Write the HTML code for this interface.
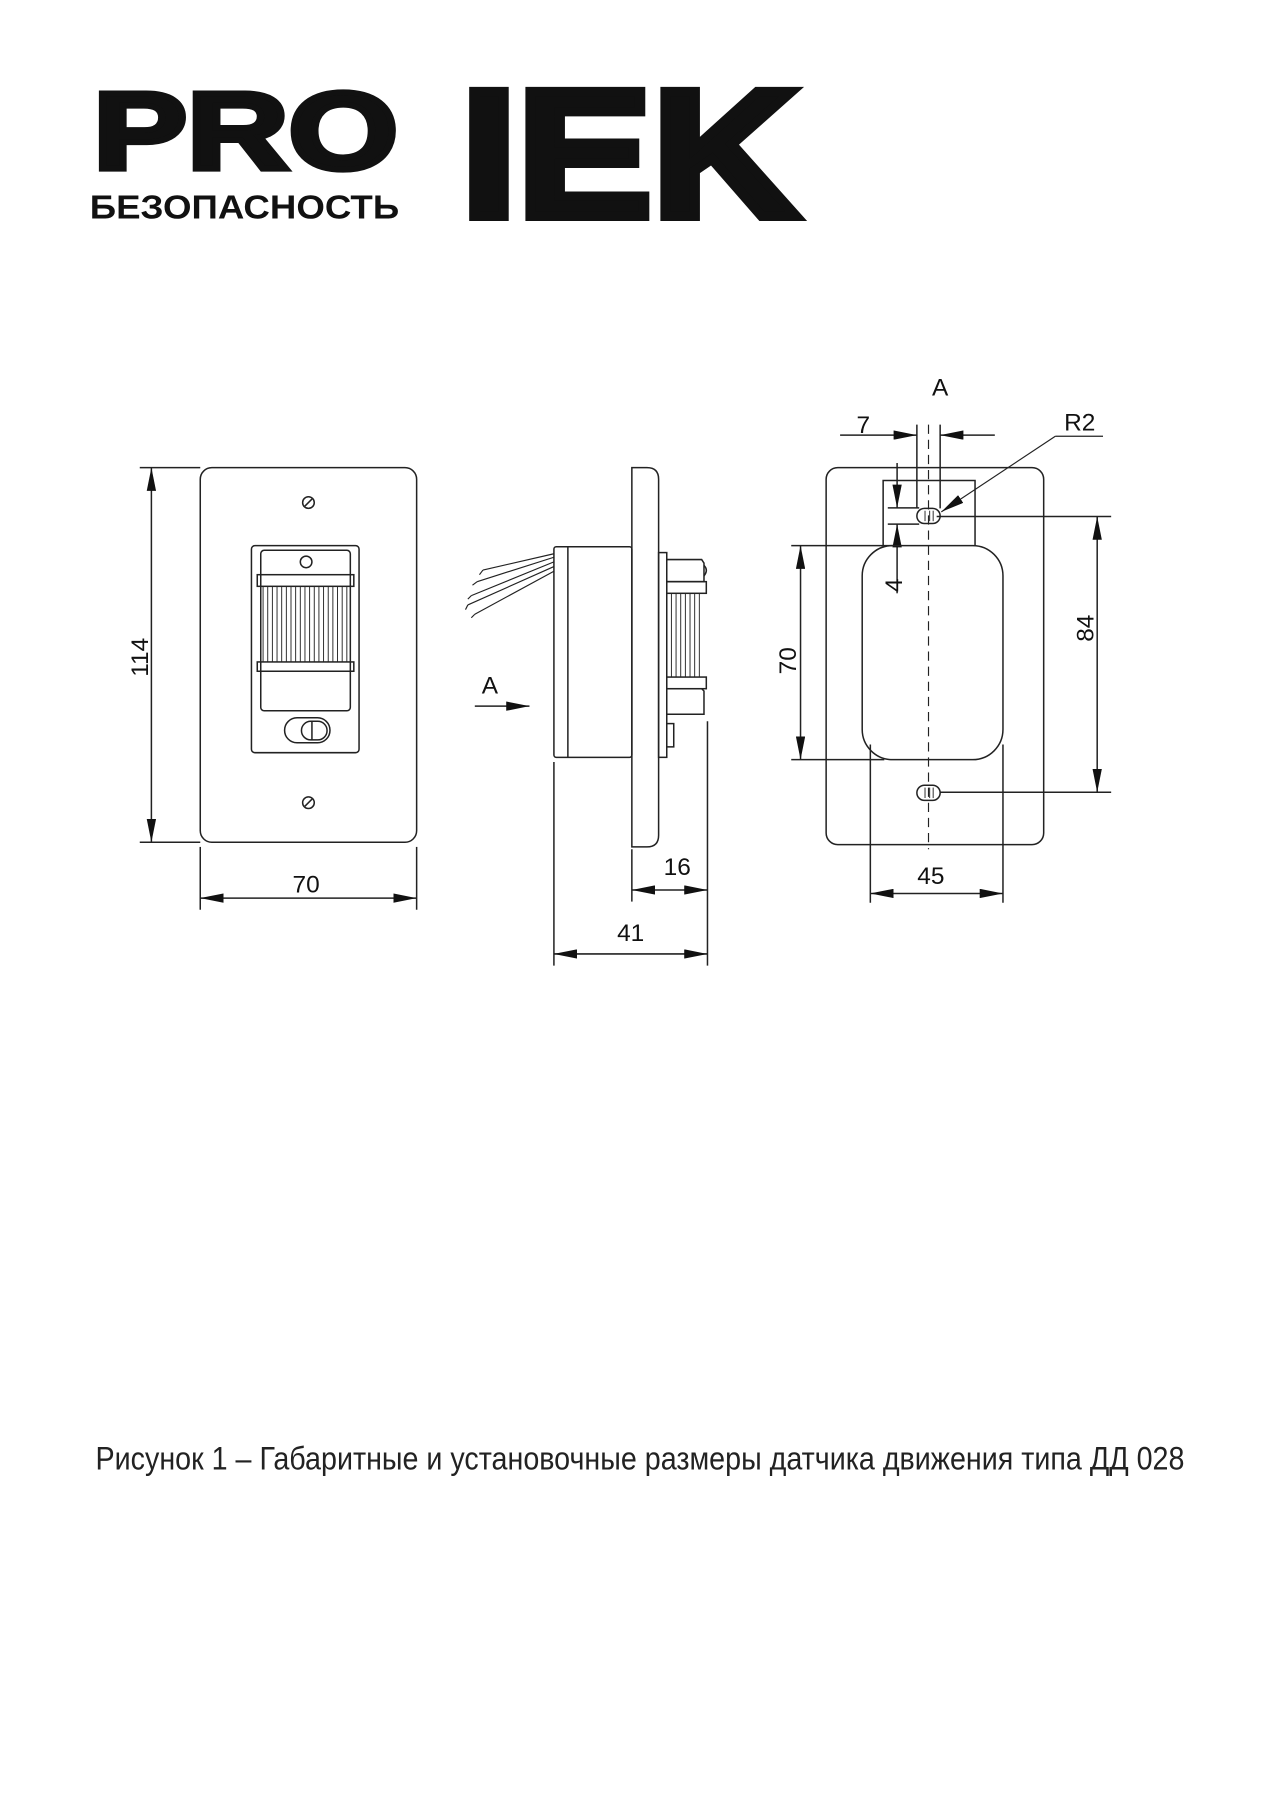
<!DOCTYPE html>
<html><head><meta charset="utf-8"><style>
html,body{margin:0;padding:0;background:#fff;}
svg{display:block;}
</style></head><body>
<svg width="1280" height="1809" viewBox="0 0 1100 1555" xmlns="http://www.w3.org/2000/svg" font-family="Liberation Sans, sans-serif">
<defs>
<marker id="ar" viewBox="0 0 20 8" refX="20" refY="4" markerWidth="20" markerHeight="8" markerUnits="userSpaceOnUse" orient="auto-start-reverse"><path d="M0,0 L20,4 L0,8 z" fill="#111"/></marker>
</defs>
<!-- Logo -->
<text x="80" y="145" font-size="94" font-weight="bold" textLength="262" lengthAdjust="spacingAndGlyphs" stroke="#111" stroke-width="5" fill="#111">PRO</text>
<text x="77" y="188" font-size="29" font-weight="bold" textLength="266" lengthAdjust="spacingAndGlyphs" fill="#111">БЕЗОПАСНОСТЬ</text>
<text x="396" y="186" font-size="156" font-weight="bold" textLength="290" lengthAdjust="spacingAndGlyphs" stroke="#111" stroke-width="8" fill="#111">IEK</text>

<g fill="none" stroke="#222" stroke-width="1.3">
<!-- Front view -->
<rect x="172" y="402" width="186" height="322" rx="10"/>
<circle cx="265" cy="432" r="5"/><line x1="262" y1="435" x2="268" y2="429"/>
<circle cx="265" cy="690" r="5"/><line x1="262" y1="693" x2="268" y2="687"/>
<rect x="216" y="469" width="92.5" height="178" rx="3"/>
<rect x="224" y="473" width="77" height="138" rx="3"/>
<circle cx="263" cy="483" r="5"/>
<rect x="221" y="494" width="83" height="10"/>
<rect x="221" y="569" width="83" height="8"/>
<g stroke-width="0.8">
<line x1="226" y1="504" x2="226" y2="569"/><line x1="230" y1="504" x2="230" y2="569"/><line x1="234" y1="504" x2="234" y2="569"/><line x1="238" y1="504" x2="238" y2="569"/><line x1="242" y1="504" x2="242" y2="569"/><line x1="246" y1="504" x2="246" y2="569"/><line x1="250" y1="504" x2="250" y2="569"/><line x1="254" y1="504" x2="254" y2="569"/><line x1="258" y1="504" x2="258" y2="569"/><line x1="262" y1="504" x2="262" y2="569"/><line x1="266" y1="504" x2="266" y2="569"/><line x1="270" y1="504" x2="270" y2="569"/><line x1="274" y1="504" x2="274" y2="569"/><line x1="278" y1="504" x2="278" y2="569"/><line x1="282" y1="504" x2="282" y2="569"/><line x1="286" y1="504" x2="286" y2="569"/><line x1="290" y1="504" x2="290" y2="569"/><line x1="294" y1="504" x2="294" y2="569"/><line x1="298" y1="504" x2="298" y2="569"/>
</g>
<rect x="244.5" y="617" width="39" height="21.5" rx="10.7"/>
<rect x="259" y="620" width="22" height="16" rx="8"/>
<line x1="268" y1="620" x2="268" y2="636"/>
<!-- Dim 114 -->
<line x1="120" y1="402" x2="172" y2="402"/><line x1="120" y1="724" x2="172" y2="724"/>
<line x1="130" y1="402" x2="130" y2="724" marker-start="url(#ar)" marker-end="url(#ar)"/>
<!-- Dim 70 front -->
<line x1="172" y1="728" x2="172" y2="782"/><line x1="358" y1="728" x2="358" y2="782"/>
<line x1="172" y1="772" x2="358" y2="772" marker-start="url(#ar)" marker-end="url(#ar)"/>

<!-- Side view -->
<path d="M543,402 L556,402 Q566,402 566,412 L566,718 Q566,728 556,728 L543,728 Z"/>
<rect x="476" y="470" width="67" height="181" rx="2"/>
<line x1="488" y1="470" x2="488" y2="651"/>
<rect x="566" y="475" width="7" height="176"/>
<path d="M573,481 L603,481 L605,484 L605,500 L573,500"/>
<path d="M605,486 Q609,490 605,495"/>
<rect x="573" y="500" width="34" height="10"/>
<rect x="573" y="582" width="34" height="10"/>
<path d="M573,592 L603,592 L605,594 L605,614 L573,614"/>
<rect x="573" y="622" width="6" height="20"/>
<g stroke-width="0.8">
<line x1="577" y1="510" x2="577" y2="582"/><line x1="581" y1="510" x2="581" y2="582"/><line x1="585" y1="510" x2="585" y2="582"/><line x1="589" y1="510" x2="589" y2="582"/><line x1="593" y1="510" x2="593" y2="582"/><line x1="597" y1="510" x2="597" y2="582"/><line x1="601" y1="510" x2="601" y2="582"/>
</g>
<g stroke-width="1">
<path d="M476,476 L415,490"/><path d="M476,479 L410,500"/><path d="M476,483 L405,512"/><path d="M476,487 L402,520"/><path d="M476,491 L408,528"/>
<path d="M415,490 L412,494 M410,500 L406,503 M405,512 L402,515 M402,520 L400,524 M408,528 L405,531"/>
</g>
<line x1="408" y1="607" x2="455" y2="607" marker-end="url(#ar)"/>
<!-- Dims 16, 41 -->
<line x1="476" y1="655" x2="476" y2="830"/><line x1="543" y1="730" x2="543" y2="775"/><line x1="608" y1="620" x2="608" y2="830"/>
<line x1="543" y1="765" x2="608" y2="765" marker-start="url(#ar)" marker-end="url(#ar)"/>
<line x1="476" y1="820" x2="608" y2="820" marker-start="url(#ar)" marker-end="url(#ar)"/>

<!-- Right view -->
<rect x="710" y="402" width="187" height="324" rx="10"/>
<path d="M759,469 L759,413 L838,413 L838,469"/>
<rect x="741" y="469" width="121" height="184" rx="26"/>
<line x1="798" y1="365" x2="798" y2="730" stroke-dasharray="8,5" stroke-width="1"/>
<rect x="788" y="437" width="20" height="13" rx="6.5"/>
<line x1="795" y1="439" x2="795" y2="448" stroke-width="0.8"/><line x1="799" y1="439" x2="799" y2="448" stroke-width="0.8"/><line x1="802" y1="439" x2="802" y2="448" stroke-width="0.8"/>
<rect x="788" y="675" width="20" height="13" rx="6.5"/>
<line x1="795" y1="677" x2="795" y2="686" stroke-width="0.8"/><line x1="799" y1="677" x2="799" y2="686" stroke-width="0.8"/><line x1="802" y1="677" x2="802" y2="686" stroke-width="0.8"/>
<!-- Dim 7 -->
<line x1="788" y1="365" x2="788" y2="437"/><line x1="808" y1="365" x2="808" y2="437"/>
<line x1="722" y1="374" x2="788" y2="374" marker-end="url(#ar)"/>
<line x1="855" y1="374" x2="808" y2="374" marker-end="url(#ar)"/>
<!-- R2 -->
<line x1="948" y1="375" x2="907" y2="375" stroke-width="1"/>
<line x1="907" y1="375" x2="809" y2="440" stroke-width="1" marker-end="url(#ar)"/>
<!-- Dim 4 -->
<line x1="763" y1="436.6" x2="790" y2="436.6"/><line x1="763" y1="450.5" x2="790" y2="450.5"/>
<line x1="771" y1="398" x2="771" y2="436.6" marker-end="url(#ar)"/>
<line x1="771" y1="510" x2="771" y2="450.5" marker-end="url(#ar)"/>
<!-- Dim 70 right -->
<line x1="680" y1="469" x2="775" y2="469"/><line x1="680" y1="653" x2="760" y2="653"/>
<line x1="688" y1="469" x2="688" y2="653" marker-start="url(#ar)" marker-end="url(#ar)"/>
<!-- Dim 84 -->
<line x1="805" y1="444" x2="955" y2="444"/><line x1="808" y1="681" x2="955" y2="681"/>
<line x1="943" y1="444" x2="943" y2="681" marker-start="url(#ar)" marker-end="url(#ar)"/>
<!-- Dim 45 -->
<line x1="748" y1="640" x2="748" y2="776"/><line x1="862" y1="640" x2="862" y2="776"/>
<line x1="748" y1="768" x2="862" y2="768" marker-start="url(#ar)" marker-end="url(#ar)"/>
</g>

<g font-size="21" fill="#111">
<text x="263" y="767" text-anchor="middle">70</text>
<text transform="translate(127,565) rotate(-90)" text-anchor="middle">114</text>
<text x="421" y="596" text-anchor="middle">A</text>
<text x="582" y="752" text-anchor="middle">16</text>
<text x="542" y="809" text-anchor="middle">41</text>
<text x="808" y="340" text-anchor="middle">A</text>
<text x="742" y="372" text-anchor="middle">7</text>
<text x="928" y="370" text-anchor="middle">R2</text>
<text transform="translate(775,503) rotate(-90)" text-anchor="middle">4</text>
<text transform="translate(684,568) rotate(-90)" text-anchor="middle">70</text>
<text transform="translate(940,540) rotate(-90)" text-anchor="middle">84</text>
<text x="800" y="760" text-anchor="middle">45</text>
</g>
<text x="82" y="1263" font-size="28" fill="#222" textLength="936" lengthAdjust="spacingAndGlyphs">Рисунок 1 – Габаритные и установочные размеры датчика движения типа ДД 028</text>
</svg>
</body></html>
